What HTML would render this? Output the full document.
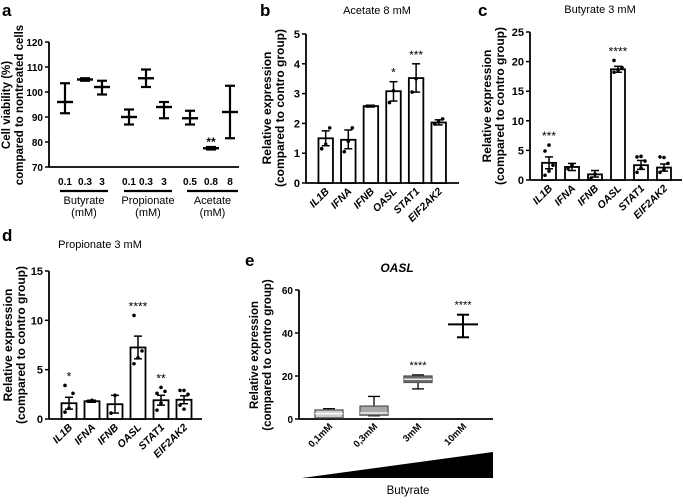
<!DOCTYPE html>
<html><head><meta charset="utf-8"><style>
body{margin:0;background:#fff;width:683px;height:499px;overflow:hidden;font-family:"Liberation Sans",sans-serif}
svg text{font-family:"Liberation Sans",sans-serif}
</style></head><body>
<svg id="fig" width="683" height="499" viewBox="0 0 683 499"></svg>
<script>
// Panel a data
const aCats=["0.1","0.3","3","0.1","0.3","3","0.5","0.8","8"];
const aMean=[96,105,102,90,105.5,94,89.5,77.5,92];
const aLo=[91.5,104.5,99,87,102,89.5,87,77,81.5];
const aHi=[103.5,105.5,104.5,93,109,96,92.5,78,102.5];
const aTicks=[70,80,90,100,110,120];
// Panel b
const genes=["IL1B","IFNA","IFNB","OASL","STAT1","EIF2AK2"];
const bVals=[1.5,1.45,2.58,3.08,3.52,2.03];
const bLo=[1.25,1.15,2.55,2.75,3.05,1.95];
const bHi=[1.75,1.78,2.61,3.4,4.0,2.12];
const bStars=["","","","*","***",""];
const bTicks=[0,1,2,3,4,5];
const bPts=[[1.15,1.3,1.85],[1.05,1.4,1.85],[2.58],[2.7,3.1],[3.05,3.5],[1.98,2.05,2.15]];
// Panel c
const cVals=[2.9,2.2,0.95,18.7,2.5,2.1];
const cLo=[1.9,1.6,0.5,18.2,1.8,1.5];
const cHi=[3.9,2.8,1.6,19.2,3.3,2.7];
const cStars=["***","","","****","",""];
const cTicks=[0,5,10,15,20,25];
const cPts=[[0.8,1.5,2.5,4.9,5.9],[1.9,2.5],[0.3,1.0],[18.2,18.6,19.0,20.2],[1.3,2.0,3.2,3.9,4.0],[1.3,1.8,2.8,3.9,3.8]];
// Panel d
const dVals=[1.6,1.8,1.5,7.25,1.9,1.95];
const dLo=[1.0,1.7,0.6,6.1,1.4,1.55];
const dHi=[2.2,1.9,2.4,8.4,2.4,2.35];
const dStars=["*","","","****","**",""];
const dTicks=[0,5,10,15];
const dPts=[[0.7,1.1,2.6,3.4],[1.8,1.9],[0.6,2.4],[5.6,6.2,6.9,10.5],[0.9,1.6,2.8,2.6,3.2],[1.4,1.0,2.5,2.9,2.9]];
// Panel e
const eCats=["0,1mM","0,3mM","3mM","10mM"];
const eMin=[0,1.5,14,38];
const eQ1=[0.5,1.8,17,44];
const eMed=[2.5,2.8,18.5,44];
const eQ3=[4.2,6,20,44];
const eMax=[4.8,10.5,20.5,48.5];
const eFill=["#d0d0d0","#a8a8a8","#6f6f6f","none"];
const eStars=["","","****","****"];
const eTicks=[0,20,40,60];

const NS="http://www.w3.org/2000/svg";
const svg=document.getElementById('fig');
function el(tag,attrs,parent,txt){const e=document.createElementNS(NS,tag);for(const k in attrs)e.setAttribute(k,attrs[k]);if(txt!==undefined)e.textContent=txt;(parent||svg).appendChild(e);return e;}
function line(x1,y1,x2,y2,w,g){return el('line',{x1,y1,x2,y2,stroke:'#000','stroke-width':w||1.5},g);}

function letter(t,x,y){const e=el('text',{x,y,'font-size':17,'font-weight':'bold'},svg,t);

}
letter('a',2,16);letter('b',260,16);letter('c',478,16);letter('d',2,241);letter('e',245,266);

function yAxis(g,x,y0,y1,ticks,sc,fs){line(x,y0,x,y1,1.8,g);
ticks.forEach(t=>{const y=sc(t);line(x-4,y,x,y,1.5,g);
const tx=el('text',{x:x-6,y:y+4,'font-size':fs||11,'font-weight':'bold','text-anchor':'end'},g,t);

});}
function yTitle(g,cx,cy,l1,l2,fs){const t=el('text',{transform:`translate(${cx},${cy}) rotate(-90)`,'font-size':fs||12,'font-weight':'bold','text-anchor':'middle'},g);
el('tspan',{x:0,dy:0},t,l1);el('tspan',{x:0,dy:13},t,l2);

}

// ===== Panel a
(function(){const g=el('g',{});
const ax=49,y0=167,y1=42,xs=[65,85,102,129,146,164,190,211,230];
const sy=v=>y0-(v-70)*(y0-y1)/50;
yAxis(g,ax,y0,y1,aTicks,sy,10);line(ax,y0,239,y0,1.8,g);
yTitle(g,10,105,'Cell viability (%)','compared to nontreated cells',11.5);
aCats.forEach((c,i)=>{const x=xs[i];
const m=el('g',{},g);
line(x,sy(aLo[i]),x,sy(aHi[i]),2.2,m);line(x-5,sy(aLo[i]),x+5,sy(aLo[i]),2.2,m);line(x-5,sy(aHi[i]),x+5,sy(aHi[i]),2.2,m);line(x-8,sy(aMean[i]),x+8,sy(aMean[i]),2.4,m);
const t=el('text',{x,y:185,'font-size':10,'font-weight':'bold','text-anchor':'middle'},g,c);
});
const s=el('text',{x:211,y:146,'font-size':12,'font-weight':'bold','text-anchor':'middle'},g,'**');

[["Butyrate",60,108],["Propionate",124,172],["Acetate",187,238]].forEach(d=>{line(d[1],191,d[2],191,2.2,g);
const t=el('text',{x:(d[1]+d[2])/2,y:204,'font-size':11,'text-anchor':'middle'},g);el('tspan',{x:(d[1]+d[2])/2,dy:0},t,d[0]);el('tspan',{x:(d[1]+d[2])/2,dy:12},t,'(mM)');
});
})();

// ===== Bar panels
function barPanel(name,vals,lo,hi,stars,pts,ticks,ax,xEnd,y0,y1,tmax,c0,step,bw,title,tx,ty,titleX){
const g=el('g',{});
const sy=v=>y0-v*(y0-y1)/tmax;
yAxis(g,ax,y0,y1,ticks,sy,11);line(ax,y0,xEnd,y0,1.8,g);
yTitle(g,tx,ty,'Relative expression','(compared to contro group)',12);
const tt=el('text',{x:titleX[0],y:titleX[1],'font-size':11,'text-anchor':'middle'},g,title);

genes.forEach((gn,i)=>{const x=c0+i*step;
const r=el('rect',{x:x-bw/2,y:sy(vals[i]),width:bw,height:y0-sy(vals[i]),fill:'#fff',stroke:'#000','stroke-width':1.8},g);

pts[i].forEach((p,j)=>{const c=el('circle',{cx:x+((j%3)-1)*4,cy:sy(p),r:1.8,fill:'#000'},g);
});
line(x,sy(lo[i]),x,sy(hi[i]),1.5,g);line(x-4,sy(hi[i]),x+4,sy(hi[i]),1.5,g);line(x-4,sy(lo[i]),x+4,sy(lo[i]),1.5,g);
if(stars[i]){const top=Math.min(sy(hi[i]),...pts[i].map(sy));const s=el('text',{x,y:top-5,'font-size':12,'text-anchor':'middle'},g,stars[i]);
}
const lab=el('text',{transform:`translate(${x+4},${y0+9}) rotate(-45)`,'font-size':10.5,'font-weight':'bold','font-style':'italic','text-anchor':'end'},g,gn);
});}
barPanel('panel-b-acetate',bVals,bLo,bHi,bStars,bPts,bTicks,306,459,183,34,5,325.7,22.6,14.5,'Acetate 8 mM',271,108,[377,14]);
barPanel('panel-c-butyrate',cVals,cLo,cHi,cStars,cPts,cTicks,530,682,180,32,25,549,23,14,'Butyrate 3 mM',491,106,[600,13]);
barPanel('panel-d-propionate',dVals,dLo,dHi,dStars,dPts,dTicks,49,202,419,271,15,69,23,15,'Propionate 3 mM',12,345,[100,248]);

// ===== Panel e
(function(){const g=el('g',{});
const ax=299,y0=419,y1=290,xs=[329,374,418,463],bw=28;
const sy=v=>y0-v*(y0-y1)/60;
yAxis(g,ax,y0,y1,eTicks,sy,10);line(ax,y0,493,y0,1.8,g);
yTitle(g,258,355,'Relative expression','(compared to contro group)',11.5);
const t=el('text',{x:397,y:272,'font-size':12,'font-weight':'bold','font-style':'italic','text-anchor':'middle'},g,'OASL');

eCats.forEach((c,i)=>{const x=xs[i];const b=el('g',{},g);
if(eFill[i]!=='none'){line(x,sy(eMin[i]),x,sy(eMax[i]),1.3,b);line(x-6,sy(eMax[i]),x+6,sy(eMax[i]),1.3,b);line(x-6,sy(eMin[i]),x+6,sy(eMin[i]),1.3,b);
el('rect',{x:x-bw/2,y:sy(eQ3[i]),width:bw,height:Math.max(1,sy(eQ1[i])-sy(eQ3[i])),fill:eFill[i],stroke:'#555','stroke-width':1.3},b);
line(x-bw/2,sy(eMed[i]),x+bw/2,sy(eMed[i]),1.3,b).setAttribute('stroke','#fff');}
else{line(x,sy(eMin[i]),x,sy(eMax[i]),2,b);line(x-6,sy(eMax[i]),x+6,sy(eMax[i]),2,b);line(x-6,sy(eMin[i]),x+6,sy(eMin[i]),2,b);line(x-15,sy(eMed[i]),x+15,sy(eMed[i]),2,b);}
if(eStars[i]){const s=el('text',{x,y:sy(eMax[i])-6,'font-size':11,'text-anchor':'middle'},g,eStars[i]);}
const lab=el('text',{transform:`translate(${x+4},${y0+8}) rotate(-45)`,'font-size':9.5,'font-weight':'bold','text-anchor':'end'},g,c);
});
const tri=el('polygon',{points:'302,478 493,452 493,478',fill:'#000'},g);

const bl=el('text',{x:408,y:494,'font-size':11.5,'text-anchor':'middle'},g,'Butyrate');

})();
</script>
</body></html>
